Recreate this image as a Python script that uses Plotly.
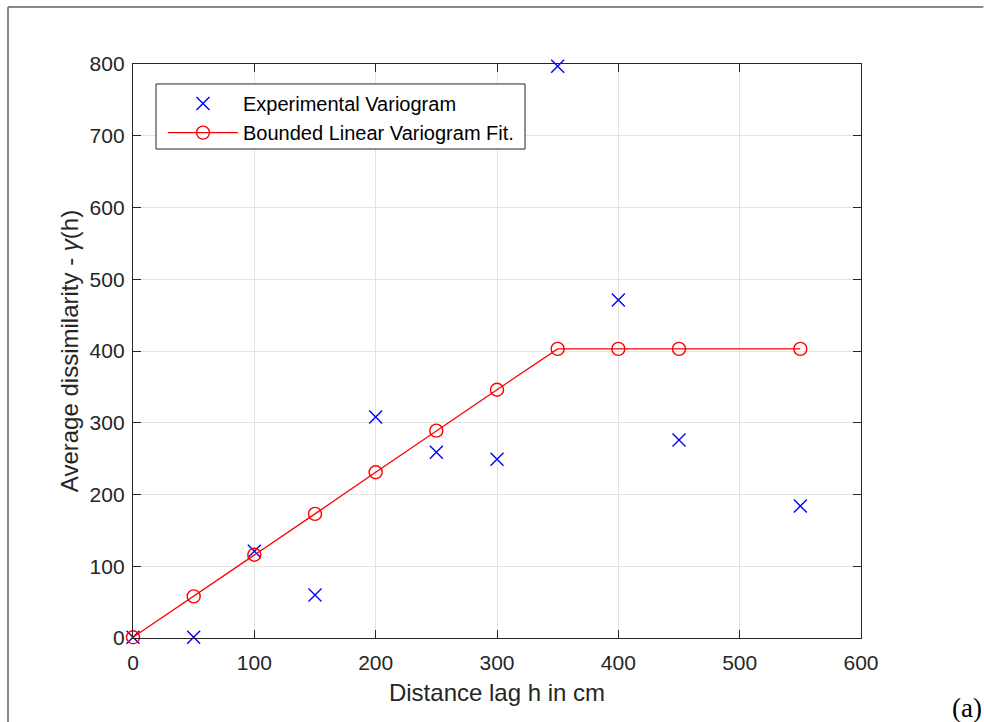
import plotly.graph_objects as go

lag = [0, 50, 100, 150, 200, 250, 300, 350, 400, 450, 550]
experimental = [1, 1, 121, 60, 308, 259, 249, 797, 471, 276, 184]
fit = [1, 58, 116, 173, 231, 289, 346, 403, 403, 403, 403]

x_ticks = [0, 100, 200, 300, 400, 500, 600]
y_ticks = [0, 100, 200, 300, 400, 500, 600, 700, 800]

axis_col = "#262626"
grid_col = "#e3e3e3"
font_fam = "Liberation Sans, Arial, sans-serif"

fig = go.Figure()
fig.add_trace(go.Scatter(
    x=lag, y=experimental, mode="markers", name="Experimental Variogram",
    marker=dict(symbol="x-thin-open", size=13, line=dict(color="#0000ff", width=1.4), color="#0000ff"),
    cliponaxis=False,
))
fig.add_trace(go.Scatter(
    x=lag, y=fit, mode="lines+markers", name="Bounded Linear Variogram Fit.",
    line=dict(color="#ff0000", width=1.3),
    marker=dict(symbol="circle-open", size=13, line=dict(color="#ff0000", width=1.4), color="#ff0000"),
    cliponaxis=False,
))

axis_common = dict(
    showline=True, linecolor=axis_col, linewidth=1.3, mirror="ticks",
    ticks="inside", ticklen=8, tickcolor=axis_col, tickwidth=1.3,
    showgrid=True, gridcolor=grid_col, gridwidth=1, zeroline=False,
    tickfont=dict(family=font_fam, size=21, color=axis_col),
)

frame = dict(color="#606060", width=1.5)

fig.update_layout(
    width=984, height=722,
    margin=dict(l=133, r=123, t=64, b=84),
    paper_bgcolor="white", plot_bgcolor="white",
    font=dict(family=font_fam, color=axis_col),
    xaxis=dict(range=[0, 600], tickvals=x_ticks, ticklabelstandoff=6,
               title=dict(text="Distance lag h in cm", font=dict(size=24, color=axis_col), standoff=10),
               **axis_common),
    yaxis=dict(range=[0, 800], tickvals=y_ticks, ticklabelstandoff=3,
               title=dict(text="Average dissimilarity - <i>γ</i>(h)", font=dict(size=24, color=axis_col), standoff=4),
               **axis_common),
    legend=dict(x=0.0412, y=0.965, xanchor="left", yanchor="top",
                bgcolor="rgba(0,0,0,0)", borderwidth=0,
                font=dict(family=font_fam, size=20, color="black"),
                itemwidth=70, tracegroupgap=0),
    showlegend=True,
    shapes=[
        dict(type="line", xref="paper", yref="paper",
             x0=-0.1717, x1=-0.1717, y0=-0.16, y1=1.0993, line=frame, layer="below"),
        dict(type="line", xref="paper", yref="paper",
             x0=-0.1717, x1=1.168, y0=1.0993, y1=1.0993, line=frame, layer="below"),
        dict(type="rect", xref="paper", yref="paper",
             x0=0.0316, x1=0.5385, y0=0.8519, y1=0.9652,
             fillcolor="white", line=dict(color=axis_col, width=1), layer="above"),
    ],
    annotations=[dict(text="(a)", xref="paper", yref="paper", x=1.1456, y=-0.122,
                      xanchor="center", yanchor="middle", showarrow=False,
                      font=dict(family="Liberation Serif, Times New Roman, serif", size=27, color="black"))],
)

fig.write_html("out.html",
               config={"displayModeBar": False},
               post_script="document.body.style.margin='0';document.body.style.overflow='hidden';")
